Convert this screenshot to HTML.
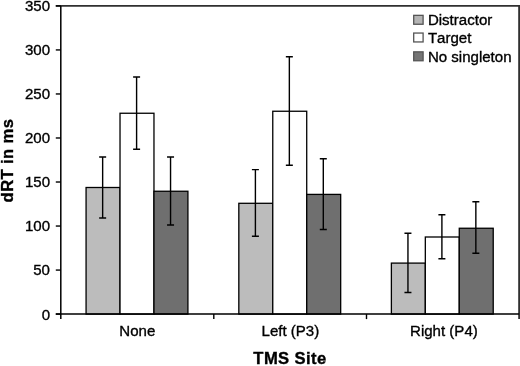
<!DOCTYPE html>
<html><head><meta charset="utf-8"><title>TMS Site chart</title>
<style>html,body{margin:0;padding:0;background:#fff}svg{display:block;will-change:transform;filter:blur(0.3px)}text{font-family:"Liberation Sans",Arial,sans-serif;font-kerning:none;fill:#000;stroke:#000;stroke-width:0.35px}</style></head><body>
<svg width="520" height="366" viewBox="0 0 520 366">
<rect width="520" height="366" fill="#fff"/>
<rect x="86.07" y="187.50" width="33.95" height="126.60" fill="#bcbcbc" stroke="#000" stroke-width="1.3"/>
<rect x="120.02" y="113.25" width="33.95" height="200.85" fill="#ffffff" stroke="#000" stroke-width="1.3"/>
<rect x="153.97" y="191.25" width="33.95" height="122.85" fill="#6f6f6f" stroke="#000" stroke-width="1.3"/>
<rect x="238.82" y="203.30" width="33.95" height="110.80" fill="#bcbcbc" stroke="#000" stroke-width="1.3"/>
<rect x="272.77" y="111.25" width="33.95" height="202.85" fill="#ffffff" stroke="#000" stroke-width="1.3"/>
<rect x="306.73" y="194.40" width="33.95" height="119.70" fill="#6f6f6f" stroke="#000" stroke-width="1.3"/>
<rect x="391.38" y="263.10" width="33.95" height="51.00" fill="#bcbcbc" stroke="#000" stroke-width="1.3"/>
<rect x="425.32" y="237.00" width="33.95" height="77.10" fill="#ffffff" stroke="#000" stroke-width="1.3"/>
<rect x="459.27" y="228.25" width="33.95" height="85.85" fill="#6f6f6f" stroke="#000" stroke-width="1.3"/>
<path d="M102.65 157.00V218.00M99.15 157.00h7M99.15 218.00h7" stroke="#000" stroke-width="1.4" fill="none"/>
<path d="M136.60 77.00V149.25M133.10 77.00h7M133.10 149.25h7" stroke="#000" stroke-width="1.4" fill="none"/>
<path d="M170.55 157.00V225.00M167.05 157.00h7M167.05 225.00h7" stroke="#000" stroke-width="1.4" fill="none"/>
<path d="M255.40 169.60V236.30M251.90 169.60h7M251.90 236.30h7" stroke="#000" stroke-width="1.4" fill="none"/>
<path d="M289.35 56.75V165.25M285.85 56.75h7M285.85 165.25h7" stroke="#000" stroke-width="1.4" fill="none"/>
<path d="M323.30 158.75V229.50M319.80 158.75h7M319.80 229.50h7" stroke="#000" stroke-width="1.4" fill="none"/>
<path d="M407.95 233.25V292.50M404.45 233.25h7M404.45 292.50h7" stroke="#000" stroke-width="1.4" fill="none"/>
<path d="M441.90 214.75V258.75M438.40 214.75h7M438.40 258.75h7" stroke="#000" stroke-width="1.4" fill="none"/>
<path d="M475.85 201.75V253.25M472.35 201.75h7M472.35 253.25h7" stroke="#000" stroke-width="1.4" fill="none"/>
<path d="M55.8 5.9H519.1V319.1" stroke="#303030" stroke-width="1.8" fill="none"/>
<path d="M60.8 5.9V319.1M55.8 314.1H519.1" stroke="#000" stroke-width="1.5" fill="none"/>
<path d="M55.8 314.10H60.8" stroke="#000" stroke-width="1.4"/>
<text x="50.0" y="319.50" font-size="15.05" text-anchor="end">0</text>
<path d="M55.8 270.07H60.8" stroke="#000" stroke-width="1.4"/>
<text x="50.0" y="275.47" font-size="15.05" text-anchor="end">50</text>
<path d="M55.8 226.04H60.8" stroke="#000" stroke-width="1.4"/>
<text x="50.0" y="231.44" font-size="15.05" text-anchor="end">100</text>
<path d="M55.8 182.01H60.8" stroke="#000" stroke-width="1.4"/>
<text x="50.0" y="187.41" font-size="15.05" text-anchor="end">150</text>
<path d="M55.8 137.99H60.8" stroke="#000" stroke-width="1.4"/>
<text x="50.0" y="143.39" font-size="15.05" text-anchor="end">200</text>
<path d="M55.8 93.96H60.8" stroke="#000" stroke-width="1.4"/>
<text x="50.0" y="99.36" font-size="15.05" text-anchor="end">250</text>
<path d="M55.8 49.93H60.8" stroke="#000" stroke-width="1.4"/>
<text x="50.0" y="55.33" font-size="15.05" text-anchor="end">300</text>
<path d="M55.8 5.90H60.8" stroke="#000" stroke-width="1.4"/>
<text x="50.0" y="11.30" font-size="15.05" text-anchor="end">350</text>
<path d="M213.80 314.1V319.1" stroke="#000" stroke-width="1.4"/>
<path d="M366.50 314.1V319.1" stroke="#000" stroke-width="1.4"/>
<text x="137.35" y="336.2" font-size="15.05" text-anchor="middle">None</text>
<text x="290.40" y="336.2" font-size="15.05" text-anchor="middle">Left (P3)</text>
<text x="443.90" y="336.2" font-size="15.05" text-anchor="middle">Right (P4)</text>
<text x="290.0" y="364.2" font-size="16.6" font-weight="bold" text-anchor="middle" letter-spacing="0.4" stroke-width="0.5">TMS Site</text>
<text transform="translate(13.1 160.5) rotate(-90)" font-size="16.6" font-weight="bold" text-anchor="middle" letter-spacing="0.4" stroke-width="0.5">dRT in ms</text>
<rect x="413.7" y="15.35" width="9.4" height="8.9" fill="#b4b4b4" stroke="#555" stroke-width="1.3"/>
<text x="427.9" y="25.30" font-size="15.05">Distractor</text>
<rect x="413.7" y="33.05" width="9.4" height="8.9" fill="#ffffff" stroke="#555" stroke-width="1.3"/>
<text x="427.9" y="43.00" font-size="15.05">Target</text>
<rect x="413.7" y="51.85" width="9.4" height="8.9" fill="#757575" stroke="#555" stroke-width="1.3"/>
<text x="427.9" y="61.80" font-size="15.05">No singleton</text>
</svg></body></html>
